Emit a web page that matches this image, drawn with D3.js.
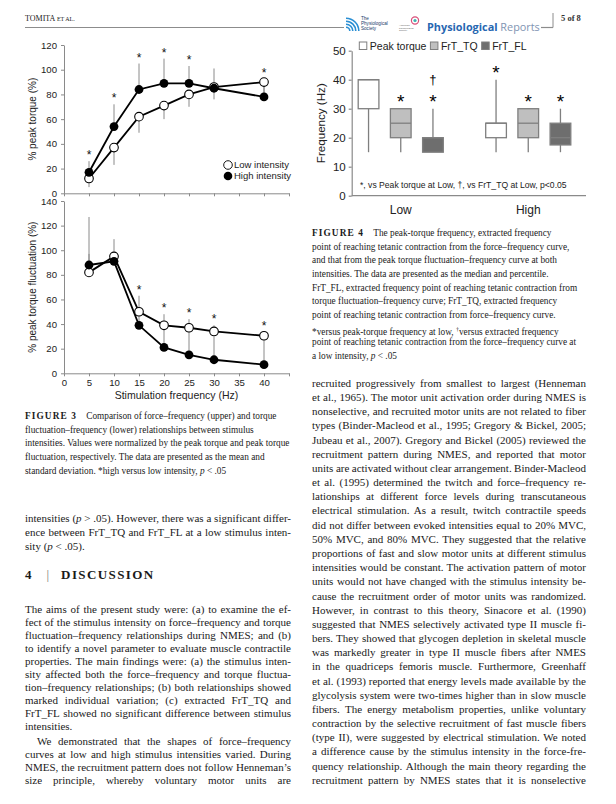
<!DOCTYPE html>
<html><head><meta charset="utf-8">
<script src="https://cdn.jsdelivr.net/npm/d3@7"></script>
<style>
body{margin:0;background:#fff;width:616px;height:804px;overflow:hidden;position:relative;font-family:"Liberation Serif","Times New Roman",serif;color:#1a1a1a;}
svg{position:absolute;left:0;top:0;}
.tl{position:absolute;white-space:nowrap;}
.figlab{font-weight:bold;letter-spacing:1.1px;}
</style></head><body>
<svg id="chart" width="616" height="804"></svg>
<script>
// ---------------- DATA ----------------
const freqs = [5, 10, 15, 20, 25, 30, 40];
const freqTicks = [0, 5, 10, 15, 20, 25, 30, 35, 40, 45];
const freqTickLabels = ["0", "5", "10", "15", "20", "25", "30", "35", "40", ""];
const torqueTicks = [0, 20, 40, 60, 80, 100, 120];
const flucTicks = [0, 20, 40, 60, 80, 100, 120, 140];
const torqueLow = [12, 37, 62, 71, 80, 86, 90];
const torqueLowSD = [7, 14, 13, 11, 10, 10, 15];
const torqueHigh = [17, 54, 84, 89, 89, 85, 78];
const torqueHighSD = [9, 18, 21, 20, 14, 16, 10];
const torqueSig = [true, true, true, true, true, false, true];
const flucLow = [82, 95, 50, 39, 37, 34, 30.5];
const flucLowSD = [45, 14, 13, 9, 7, 5, 3];
const flucHigh = [88, 91, 39, 21, 15, 11, 7];
const flucHighSD = [9, 5, 10, 18, 22, 19, 22];
const flucSig = [false, false, true, true, true, true, true];
const seriesNames = ["Low intensity", "High intensity"];

const boxGroups = ["Low", "High"];
const boxSeries = ["Peak torque", "FrT_TQ", "FrT_FL"];
const boxTicks = [0, 10, 20, 30, 40, 50];
const boxLowMin = [15, 15, 15], boxLowQ1 = [30, 20, 15], boxLowMed = [40, 25, 20], boxLowQ3 = [40, 30, 20], boxLowMax = [40, 30, 30];
const boxHighMin = [15, 15, 15], boxHighQ1 = [20, 20, 17.5], boxHighMed = [25, 25, 20], boxHighQ3 = [25, 30, 25], boxHighMax = [40, 30, 30];
const boxLowMarks = [[], ["*"], ["*", "†"]];
const boxHighMarks = [["*"], ["*"], ["*"]];
const boxNote = "*, vs Peak torque at Low, †, vs FrT_TQ at Low, p<0.05";

// ---------------- SETUP ----------------
const svg = d3.select("#chart");
const sans = '"Liberation Sans", Arial, sans-serif';
const serif = '"Liberation Serif", "Times New Roman", serif';
const axisGray = "#8a8a8a";

// ---------------- LINE CHARTS ----------------
const x = d3.scaleLinear().domain([0, 45]).range([64, 289]);
const yT = d3.scaleLinear().domain([0, 120]).range([193.3, 45]);
const yF = d3.scaleLinear().domain([0, 140]).range([373.3, 201]);

function lineChart(y, yTicks, low, lowSD, lowDir, high, highSD, highDir, sig, xLabels) {
  const g = svg.append("g");
  const ya = g.append("g").attr("transform", `translate(${x(0)},0)`)
    .call(d3.axisLeft(y).tickValues(yTicks).tickSize(3).tickSizeOuter(0).tickPadding(4));
  const xa = g.append("g").attr("transform", `translate(0,${y(0)})`)
    .call(d3.axisBottom(x).tickValues(freqTicks).tickSize(3).tickSizeOuter(0).tickPadding(3)
      .tickFormat((d, i) => xLabels ? freqTickLabels[i] : ""));
  [ya, xa].forEach(a => {
    a.selectAll("path,line").attr("stroke", axisGray).attr("stroke-width", 1);
    a.selectAll("text").attr("font-family", sans).attr("font-size", 9.6).attr("fill", "#222");
  });
  const eb = (vals, sds, dir) => g.append("g").selectAll("line").data(freqs).join("line")
    .attr("x1", d => x(d)).attr("x2", d => x(d))
    .attr("y1", (d, i) => y(vals[i])).attr("y2", (d, i) => y(vals[i] + dir * sds[i]))
    .attr("stroke", axisGray).attr("stroke-width", 1);
  eb(low, lowSD, lowDir);
  eb(high, highSD, highDir);
  const line = d3.line().x((d, i) => x(freqs[i])).y(d => y(d));
  [low, high].forEach(v => g.append("path").datum(v).attr("d", line)
    .attr("fill", "none").attr("stroke", "#000").attr("stroke-width", 1.8));
  g.append("g").selectAll("circle").data(low).join("circle")
    .attr("cx", (d, i) => x(freqs[i])).attr("cy", d => y(d)).attr("r", 4.3)
    .attr("fill", "#fff").attr("stroke", "#000").attr("stroke-width", 1.1);
  g.append("g").selectAll("circle").data(high).join("circle")
    .attr("cx", (d, i) => x(freqs[i])).attr("cy", d => y(d)).attr("r", 4.4)
    .attr("fill", "#000");
  g.append("g").selectAll("text").data(freqs.filter((d, i) => sig[i])).join("text")
    .attr("x", d => x(d))
    .attr("y", d => {
      const i = freqs.indexOf(d);
      const barTops = [];
      if (lowDir > 0) barTops.push(low[i] + lowSD[i]);
      if (highDir > 0) barTops.push(high[i] + highSD[i]);
      const bt = d3.max(barTops) || -1e9, pt = Math.max(low[i], high[i]);
      const top = Math.max(bt, pt);
      return y(top) - 9 - (pt >= bt ? 3 : 0) + 7;
    })
    .attr("text-anchor", "middle").attr("font-family", sans).attr("font-size", 12).attr("fill", "#111")
    .text("*");
  return g;
}

lineChart(yT, torqueTicks, torqueLow, torqueLowSD, -1, torqueHigh, torqueHighSD, 1, torqueSig, false);
lineChart(yF, flucTicks, flucLow, flucLowSD, 1, flucHigh, flucHighSD, 1, flucSig, true);

svg.append("text").attr("transform", `translate(35.5,${(yT(0) + yT(120)) / 2}) rotate(-90)`)
  .attr("text-anchor", "middle").attr("font-family", sans).attr("font-size", 10).attr("fill", "#222")
  .text("% peak torque (%)");
svg.append("text").attr("transform", `translate(35.5,${(yF(0) + yF(140)) / 2}) rotate(-90)`)
  .attr("text-anchor", "middle").attr("font-family", sans).attr("font-size", 10).attr("fill", "#222")
  .text("% peak torque fluctuation (%)");
svg.append("text").attr("x", (x(0) + x(45)) / 2).attr("y", 398.5)
  .attr("text-anchor", "middle").attr("font-family", sans).attr("font-size", 10.5).attr("fill", "#222")
  .text("Stimulation frequency (Hz)");

const lg = svg.append("g");
seriesNames.forEach((s, i) => {
  lg.append("circle").attr("cx", 228).attr("cy", 165 + i * 11).attr("r", 4.3)
    .attr("fill", i === 0 ? "#fff" : "#000").attr("stroke", "#000").attr("stroke-width", i === 0 ? 0.9 : 0);
  lg.append("text").attr("x", 234).attr("y", 168.3 + i * 11).attr("font-family", sans)
    .attr("font-size", 9.5).attr("fill", "#222").text(s);
});

// ---------------- BOX CHART ----------------
const yB = d3.scaleLinear().domain([0, 50]).range([195.7, 50.7]);
const xB = d3.scaleBand().domain(boxGroups).range([337, 592]);
const xS = d3.scalePoint().domain(boxSeries).range([-32.2, 32.2]);
const boxFill = ["#ffffff", "#bfbfbf", "#6e6e6e"];
const boxW = 20.7;
const gb = svg.append("g");
const yax = gb.append("g").attr("transform", `translate(351.7,0)`)
  .call(d3.axisLeft(yB).tickValues(boxTicks).tickSize(3).tickSizeOuter(0).tickPadding(3));
const xax = gb.append("g").attr("transform", `translate(0,${yB(0)})`)
  .call(d3.axisBottom(xB).tickSize(0).tickPadding(10));
xax.select(".domain").attr("d", "M351.7,0H586");
[yax, xax].forEach(a => {
  a.selectAll("path,line").attr("stroke", axisGray).attr("stroke-width", 1.2);
  a.selectAll("text").attr("font-family", sans).attr("fill", "#222");
});
yax.selectAll("text").attr("font-size", 11.5);
xax.selectAll("text").attr("font-size", 12);

const boxData = [];
boxGroups.forEach(gName => {
  const S = gName === "Low"
    ? [boxLowMin, boxLowQ1, boxLowMed, boxLowQ3, boxLowMax, boxLowMarks]
    : [boxHighMin, boxHighQ1, boxHighMed, boxHighQ3, boxHighMax, boxHighMarks];
  boxSeries.forEach((s, j) => boxData.push({ g: gName, s, j, min: S[0][j], q1: S[1][j], med: S[2][j], q3: S[3][j], max: S[4][j], marks: S[5][j] }));
});
const cx = d => xB(d.g) + xB.bandwidth() / 2 + xS(d.s);
const bx = gb.append("g").selectAll("g").data(boxData).join("g");
bx.append("line").attr("x1", cx).attr("x2", cx).attr("y1", d => yB(d.min)).attr("y2", d => yB(d.q1))
  .attr("stroke", "#7f7f7f").attr("stroke-width", 1.3);
bx.append("line").attr("x1", cx).attr("x2", cx).attr("y1", d => yB(d.q3)).attr("y2", d => yB(d.max))
  .attr("stroke", "#7f7f7f").attr("stroke-width", 1.3);
bx.append("rect").attr("x", d => cx(d) - boxW / 2).attr("width", boxW)
  .attr("y", d => yB(d.q3)).attr("height", d => yB(d.q1) - yB(d.q3))
  .attr("fill", d => boxFill[d.j]).attr("stroke", "#7f7f7f").attr("stroke-width", 1.3);
bx.append("line").attr("x1", d => cx(d) - boxW / 2).attr("x2", d => cx(d) + boxW / 2)
  .attr("y1", d => yB(d.med)).attr("y2", d => yB(d.med))
  .attr("stroke", "#7f7f7f").attr("stroke-width", 1.3);
bx.each(function (d) {
  d.marks.forEach((m, k) => {
    const yc = yB(d.max) - 11.5 - k * 18;
    d3.select(this).append("text").attr("x", cx(d))
      .attr("y", m === "*" ? yc + 11 : yc + 4.5)
      .attr("text-anchor", "middle").attr("font-family", sans)
      .attr("font-size", m === "*" ? 19 : 13).attr("fill", "#000").text(m);
  });
});
let lx = 359.3;
boxSeries.forEach((s, j) => {
  gb.append("rect").attr("x", lx).attr("y", 42).attr("width", 7.5).attr("height", 7.5)
    .attr("fill", boxFill[j]).attr("stroke", "#7f7f7f").attr("stroke-width", 1);
  const t = gb.append("text").attr("x", lx + 10.5).attr("y", 49.5).attr("font-family", sans)
    .attr("font-size", 10.5).attr("fill", "#222").text(s);
  lx += 10.5 + t.node().getComputedTextLength() + 4;
});
gb.append("text").attr("transform", `translate(324.8,${(yB(0) + yB(50)) / 2}) rotate(-90)`)
  .attr("text-anchor", "middle").attr("font-family", sans).attr("font-size", 11.6).attr("fill", "#222")
  .text("Frequency (Hz)");
gb.append("text").attr("x", 360).attr("y", 188).attr("font-family", sans).attr("font-size", 8.6)
  .attr("fill", "#222").text(boxNote);

// ---------------- HEADER ----------------
const hd = svg.append("g");
hd.append("line").attr("x1", 25).attr("x2", 344).attr("y1", 27.5).attr("y2", 27.5).attr("stroke", "#8c8c8c").attr("stroke-width", 1.2);
hd.append("line").attr("x1", 541).attr("x2", 553).attr("y1", 27.5).attr("y2", 27.5).attr("stroke", "#8c8c8c").attr("stroke-width", 1.2);
hd.append("line").attr("x1", 553).attr("x2", 553).attr("y1", 13).attr("y2", 27.5).attr("stroke", "#8c8c8c").attr("stroke-width", 1);
const tom = hd.append("text").attr("x", 25).attr("y", 21).attr("font-family", serif).attr("fill", "#222");
tom.append("tspan").attr("font-size", 8).text("TOMITA ");
tom.append("tspan").attr("font-size", 6).text("ET AL.");
hd.append("text").attr("x", 561).attr("y", 21).attr("font-family", serif).attr("font-size", 8.5)
  .attr("font-weight", "bold").attr("fill", "#333").text("5 of 8");
[3, 6, 9, 12].forEach(r => hd.append("path")
  .attr("d", d3.arc()({ innerRadius: r, outerRadius: r + 1.6, startAngle: 0, endAngle: Math.PI / 2 }))
  .attr("transform", "translate(346,31)").attr("fill", "#2a8fd4"));
["The", "Physiological", "Society"].forEach((t, i) => hd.append("text").attr("x", 361).attr("y", 20 + i * 5)
  .attr("font-family", sans).attr("font-size", 4.6).attr("fill", "#203a6a").text(t));
hd.append("circle").attr("cx", 415).attr("cy", 20.5).attr("r", 3.6).attr("fill", "none").attr("stroke", "#d9507a").attr("stroke-width", 1.2);
hd.append("circle").attr("cx", 415).attr("cy", 20.5).attr("r", 1.6).attr("fill", "#3bb3b0");
["American", "Physiological", "Society"].forEach((t, i) => hd.append("text").attr("x", 399).attr("y", 26 + i * 2.6)
  .attr("font-family", sans).attr("font-size", 2.5).attr("fill", "#555").text(t));
const pr = hd.append("text").attr("x", 427).attr("y", 30.5).attr("font-family", '"Open Sans", sans-serif').attr("font-size", 12.5);
pr.append("tspan").attr("font-weight", "bold").attr("fill", "#2767b1").text("Physiological");
pr.append("tspan").attr("fill", "#8194b2").text(" Reports");
const prW = pr.node().getComputedTextLength();
pr.attr("font-size", 12.5 * 113 / prW);

// ---------------- TEXT ----------------
function block(x0, yc0, width, lh, size, lines) {
  let y = yc0;
  lines.forEach(ln => {
    if (ln.gap) y += ln.gap;
    const ind = ln.ind || 0;
    const d = d3.select("body").append("div").attr("class", "tl")
      .style("left", (x0 + ind) + "px").style("top", (y - lh / 2 - 0.1 * size) + "px")
      .style("width", (width - ind) + "px").style("height", lh + "px")
      .style("line-height", lh + "px").style("font-size", size + "px");
    const s = d.append("span").html(ln.t);
    if (ln.j) {
      const nat = s.node().getBoundingClientRect().width;
      const spaces = (s.text().match(/ /g) || []).length;
      if (spaces > 0) s.style("word-spacing", ((width - ind - nat) / spaces) + "px");
    }
    y += lh;
  });
}
const J = t => ({ t, j: true }), L = t => ({ t, j: false });
const bodySize = 11;

block(25, 418, 280, 13.6, 9.3, [
  L('<span class="figlab">FIGURE 3</span>&nbsp;&nbsp;&nbsp;&nbsp;Comparison of force–frequency (upper) and torque'),
  L('fluctuation–frequency (lower) relationships between stimulus'),
  L('intensities. Values were normalized by the peak torque and peak torque'),
  L('fluctuation, respectively. The data are presented as the mean and'),
  L('standard deviation. *high versus low intensity, <i>p</i> &lt; .05')
]);
block(312, 235, 290, 13.6, 9.3, [
  L('<span class="figlab">FIGURE 4</span>&nbsp;&nbsp;&nbsp;&nbsp;The peak-torque frequency, extracted frequency'),
  L('point of reaching tetanic contraction from the force–frequency curve,'),
  L('and that from the peak torque fluctuation–frequency curve at both'),
  L('intensities. The data are presented as the median and percentile.'),
  L('FrT_FL, extracted frequency point of reaching tetanic contraction from'),
  L('torque fluctuation–frequency curve; FrT_TQ, extracted frequency'),
  L('point of reaching tetanic contraction from force–frequency curve.'),
  L('*versus peak-torque frequency at low, <sup style="font-size:6px">†</sup>versus extracted frequency'),
  L('point of reaching tetanic contraction from the force–frequency curve at'),
  L('a low intensity, <i>p</i> &lt; .05')
]);
block(25, 519, 266, 14, bodySize, [
  J('intensities (<i>p</i> &gt; .05). However, there was a significant differ-'),
  J('ence between FrT_TQ and FrT_FL at a low stimulus inten-'),
  L('sity (<i>p</i> &lt; .05).')
]);
d3.select("body").append("div").attr("class", "tl").style("left", "25px").style("top", "567px")
  .style("font-size", "13px").style("font-weight", "bold").style("line-height", "16px")
  .html('4<span style="font-weight:normal;color:#777;margin:0 12px 0 15px">|</span><span style="letter-spacing:1.4px">DISCUSSION</span>');

block(25, 611, 266, 12.9, bodySize, [
  J('The aims of the present study were: (a) to examine the ef-'),
  J('fect of the stimulus intensity on force–frequency and torque'),
  J('fluctuation–frequency relationships during NMES; and (b)'),
  J('to identify a novel parameter to evaluate muscle contractile'),
  J('properties. The main findings were: (a) the stimulus inten-'),
  J('sity affected both the force–frequency and torque fluctua-'),
  J('tion–frequency relationships; (b) both relationships showed'),
  J('marked individual variation; (c) extracted FrT_TQ and'),
  J('FrT_FL showed no significant difference between stimulus'),
  L('intensities.'),
  { t: 'We demonstrated that the shapes of force–frequency', j: true, ind: 12, gap: 2.6 },
  J('curves at low and high stimulus intensities varied. During'),
  J('NMES, the recruitment pattern does not follow Henneman’s'),
  J('size principle, whereby voluntary motor units are')
]);
block(312, 384, 274, 14.18, bodySize, [
  J('recruited progressively from smallest to largest (Henneman'),
  J('et al., 1965). The motor unit activation order during NMES is'),
  J('nonselective, and recruited motor units are not related to fiber'),
  J('types (Binder-Macleod et al., 1995; Gregory &amp; Bickel, 2005;'),
  J('Jubeau et al., 2007). Gregory and Bickel (2005) reviewed the'),
  J('recruitment pattern during NMES, and reported that motor'),
  J('units are activated without clear arrangement. Binder-Macleod'),
  J('et al. (1995) determined the twitch and force–frequency re-'),
  J('lationships at different force levels during transcutaneous'),
  J('electrical stimulation. As a result, twitch contractile speeds'),
  J('did not differ between evoked intensities equal to 20% MVC,'),
  J('50% MVC, and 80% MVC. They suggested that the relative'),
  J('proportions of fast and slow motor units at different stimulus'),
  J('intensities would be constant. The activation pattern of motor'),
  J('units would not have changed with the stimulus intensity be-'),
  J('cause the recruitment order of motor units was randomized.'),
  J('However, in contrast to this theory, Sinacore et al. (1990)'),
  J('suggested that NMES selectively activated type II muscle fi-'),
  J('bers. They showed that glycogen depletion in skeletal muscle'),
  J('was markedly greater in type II muscle fibers after NMES'),
  J('in the quadriceps femoris muscle. Furthermore, Greenhaff'),
  J('et al. (1993) reported that energy levels made available by the'),
  J('glycolysis system were two-times higher than in slow muscle'),
  J('fibers. The energy metabolism properties, unlike voluntary'),
  J('contraction by the selective recruitment of fast muscle fibers'),
  J('(type II), were suggested by electrical stimulation. We noted'),
  J('a difference cause by the stimulus intensity in the force-fre-'),
  J('quency relationship. Although the main theory regarding the'),
  J('recruitment pattern by NMES states that it is nonselective')
]);
</script>
</body></html>
